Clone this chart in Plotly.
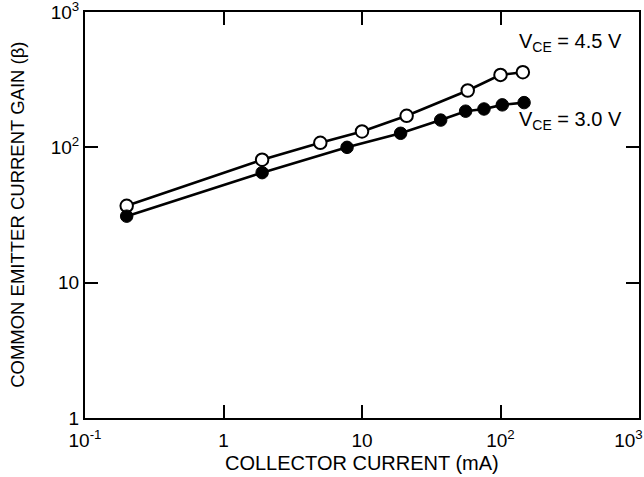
import plotly.graph_objects as go

# Data
x_45 = [0.2, 1.9, 5, 10, 21, 58, 100, 145]
y_45 = [37, 81, 108, 131, 171, 263, 343, 359]
x_30 = [0.2, 1.9, 7.8, 19, 37, 56, 76, 103, 148]
y_30 = [31, 65, 100, 127, 159, 185, 192, 206, 214]

x_tickvals = [0.1, 1, 10, 100, 1000]
x_ticktext = ["10<sup>-1</sup>", "1", "10", "10<sup>2</sup>",
              "10<sup>3</sup>&#160;&#160;&#160;&#160;"]
y_tickvals = [1, 10, 100, 1000]
y_ticktext = ["1", "10", "10<sup>2</sup>", "10<sup>3</sup>"]

x_title = "COLLECTOR CURRENT (mA)"
y_title = "COMMON EMITTER CURRENT GAIN (β)"

FONT = "Liberation Sans, Arial, sans-serif"

fig = go.Figure()
fig.add_trace(go.Scatter(
    x=x_45, y=y_45, mode="lines+markers",
    line=dict(color="black", width=2.6),
    marker=dict(symbol="circle", size=12.5, color="white",
                line=dict(color="black", width=2)),
    showlegend=False))
fig.add_trace(go.Scatter(
    x=x_30, y=y_30, mode="lines+markers",
    line=dict(color="black", width=2.6),
    marker=dict(symbol="circle", size=12.5, color="black",
                line=dict(color="black", width=1)),
    showlegend=False))

axis_common = dict(
    type="log", showgrid=False, zeroline=False,
    showline=True, linecolor="black", linewidth=2, mirror="ticks",
    ticks="inside", ticklen=13, tickwidth=1.5, tickcolor="black",
    tickfont=dict(family=FONT, size=19, color="black"),
    ticklabeloverflow="allow", automargin=False,
)

fig.update_xaxes(
    **axis_common, range=[-1, 3],
    tickvals=x_tickvals, ticktext=x_ticktext,
    ticklabelstandoff=4,
)
fig.update_yaxes(
    **axis_common, range=[0, 3],
    tickvals=y_tickvals, ticktext=y_ticktext,
)

# Axis titles as annotations (paper coords)
fig.add_annotation(x=0.5, y=-0.111, xref="paper", yref="paper",
                   xanchor="center", yanchor="middle", showarrow=False,
                   text=x_title,
                   font=dict(family=FONT, size=20, color="black"))
fig.add_annotation(x=-0.123, y=0.5, xref="paper", yref="paper",
                   xanchor="center", yanchor="middle", showarrow=False,
                   textangle=-90, text=y_title,
                   font=dict(family=FONT, size=18.5, color="black"))

fig.add_annotation(x=2.12, y=2.772, xref="x", yref="y", xanchor="left",
                   showarrow=False,
                   text="V<sub>CE</sub> = 4.5 V",
                   font=dict(family=FONT, size=20, color="black"))
fig.add_annotation(x=2.12, y=2.195, xref="x", yref="y", xanchor="left",
                   showarrow=False,
                   text="V<sub>CE</sub> = 3.0 V",
                   font=dict(family=FONT, size=20, color="black"))

fig.update_layout(
    width=644, height=477,
    margin=dict(l=85, r=5, t=12, b=59, autoexpand=False),
    paper_bgcolor="white", plot_bgcolor="white",
    font=dict(family=FONT, color="black"),
)

fig.write_html("out.html")
